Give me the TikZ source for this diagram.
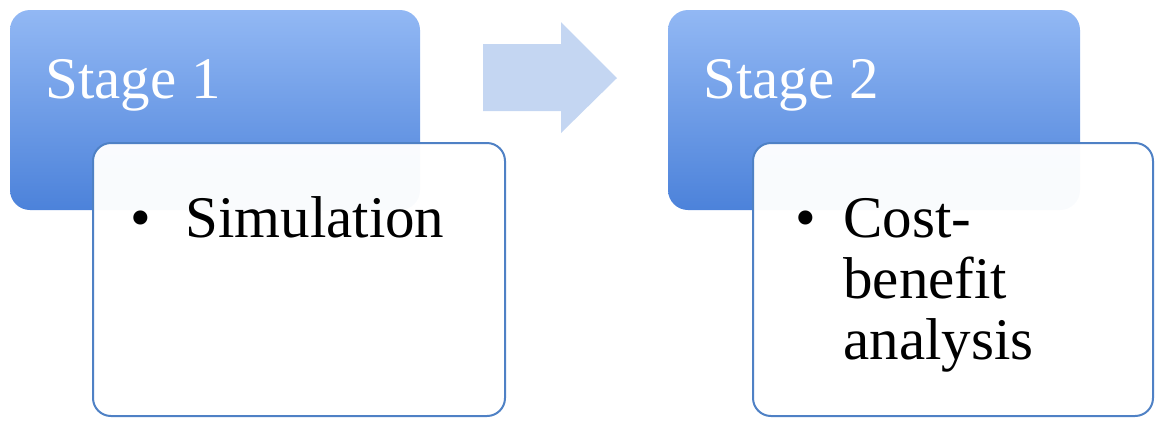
\documentclass[tikz,border=0pt]{standalone}
\usepackage{fontspec}
\setmainfont{Liberation Serif}
\usetikzlibrary{positioning}
\definecolor{stagetop}{RGB}{146,184,244}
\definecolor{stagebot}{RGB}{76,130,218}
\definecolor{boxline}{RGB}{79,129,197}
\definecolor{arrowfill}{RGB}{196,214,242}
\tikzset{
  stagebox/.style={draw=none,top color=stagetop,bottom color=stagebot,rounded corners=10pt},
  itembox/.style={draw=boxline,line width=1pt,fill=white,fill opacity=0.97,rounded corners=9pt},
  stagetext/.style={anchor=base west,text=white,inner sep=0pt,font=\fontsize{29.5}{30.5}\selectfont},
  itemtext/.style={anchor=base west,inner sep=0pt,align=left,font=\fontsize{29.5}{30.5}\selectfont},
}

\begin{document}
\begin{tikzpicture}[x=0.5pt,y=-0.5pt]
    \useasboundingbox (0,0) rectangle (1156,420);
    % first stage
    \draw[stagebox] (10,10) rectangle (420,210);
    \node[stagetext] (stage1) at (45,98) {Stage 1};
    \draw[itembox] (93,143) rectangle (505,416);
    \node[itemtext] (dot1) at (130,237) {\textbullet};
    \node[itemtext] (item1) at (185,237) {Simulation};
    % block arrow between the stages
    \draw[fill=arrowfill,draw=none] (483,44) -- (561,44) -- (561,22) -- (617,78)
      -- (561,133) -- (561,111) -- (483,111) -- cycle;
    % second stage
    \draw[stagebox] (668,10) rectangle (1080,210);
    \node[stagetext] (stage2) at (703,98) {Stage 2};
    \draw[itembox] (753,143) rectangle (1153,416);
    \node[itemtext] (dot2) at (795,237) {\textbullet};
    \node[itemtext] (item2) at (843,359) {Cost-\\benefit\\analysis};
\end{tikzpicture}
\end{document}
